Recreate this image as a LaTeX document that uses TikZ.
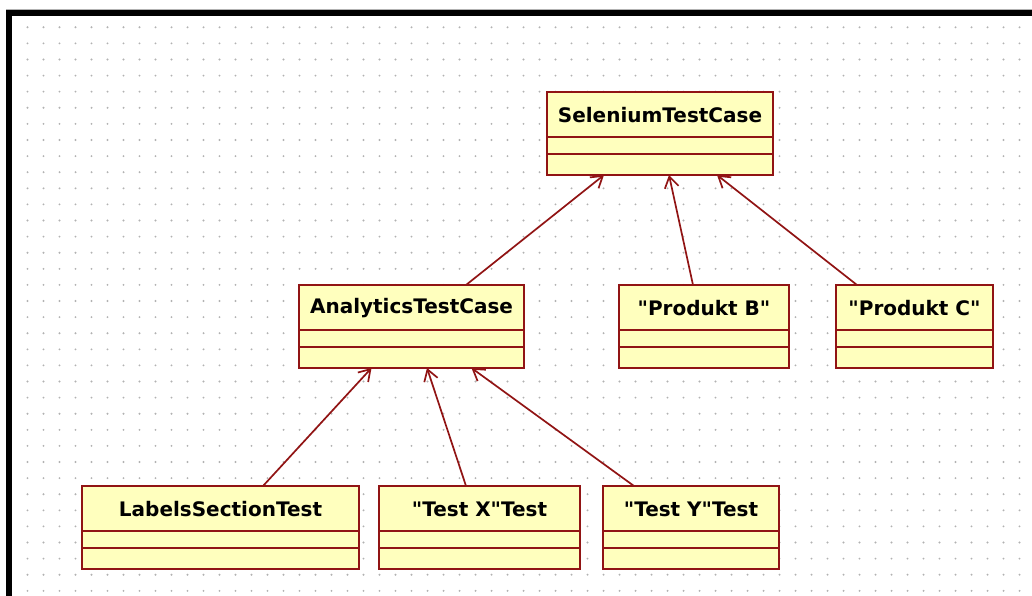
\documentclass[tikz,border=0pt]{standalone}
\usepackage{fontspec}
\newfontfamily\classfont{DejaVu Sans}[Ligatures=TeXOff]
\usetikzlibrary{arrows.meta}

\definecolor{classfill}{RGB}{255,255,190}
\definecolor{classedge}{RGB}{145,20,20}
\definecolor{griddot}{RGB}{178,178,178}

\tikzset{
  classbox/.style={draw=classedge, fill=classfill, line width=2pt,
    rectangle, inner sep=0pt, outer sep=0pt},
  classline/.style={draw=classedge, line width=2pt},
  classname/.style={font=\classfont\bfseries\fontsize{20}{22}\selectfont,
    text=black, inner sep=0pt, anchor=center},
  inherits/.style={draw=classedge, line width=1.7pt,
    -{Straight Barb[length=11pt,width=14pt,line width=1.7pt]}},
}

% #1 name, #2 left, #3 right, #4 top, #5 class name
\newcommand{\umlclass}[5]{%
  \pgfmathsetmacro\boxw{#3-#2}%
  \pgfmathsetmacro\boxcx{(#2+#3)/2}%
  \pgfmathsetmacro\boxcy{#4+41.5}%
  \node[classbox, minimum width=\boxw pt, minimum height=83pt] (#1) at (\boxcx,\boxcy) {};
  \draw[classline] ([yshift=-45pt]#1.north west) -- ([yshift=-45pt]#1.north east);
  \draw[classline] ([yshift=-62pt]#1.north west) -- ([yshift=-62pt]#1.north east);
  \node[classname] (#1-name) at ([yshift=-23pt]#1.north) {#5};
}

\begin{document}
\begin{tikzpicture}[x=1pt,y=-1pt]
  % canvas
  \fill[white] (0,0) rectangle (1032,596);
  \useasboundingbox (0,0) rectangle (1032,596);

  % dotted drawing grid
  \foreach \i in {0,...,62} {
    \foreach \j in {0,...,35} {
      \fill[griddot] (27.5+16*\i,27.3+16.1*\j) circle (1.05pt);
    }
  }

  % window frame
  \fill[black] (6,10) rectangle (1032,16);
  \fill[black] (6,10) rectangle (12,596);
  \draw[gray!60, line width=0.8pt] (6,9.4) -- (1032,9.4);

  % classes
  \umlclass{sel}{547}{773}{92}{SeleniumTestCase}
  \umlclass{ana}{299}{524}{285}{AnalyticsTestCase}
  \umlclass{pb}{619}{789}{285}{"Produkt B"}
  \umlclass{pc}{836}{993}{285}{"Produkt C"}
  \umlclass{lab}{82}{359}{486}{LabelsSectionTest}
  \umlclass{tx}{379}{580}{486}{"Test X"Test}
  \umlclass{ty}{603}{779}{486}{"Test Y"Test}

  % generalisations
  \draw[inherits] ([xshift=54.5pt]ana.north) -- ([xshift=-56pt]sel.south);
  \draw[inherits] ([xshift=-11pt]pb.north) -- ([xshift=9pt]sel.south);
  \draw[inherits] ([xshift=-57.5pt]pc.north) -- ([xshift=57pt]sel.south);
  \draw[inherits] ([xshift=42.5pt]lab.north) -- ([xshift=-40pt]ana.south);
  \draw[inherits] ([xshift=-13.5pt]tx.north) -- ([xshift=15.5pt]ana.south);
  \draw[inherits] ([xshift=-57pt]ty.north) -- ([xshift=60pt]ana.south);
\end{tikzpicture}
\end{document}
